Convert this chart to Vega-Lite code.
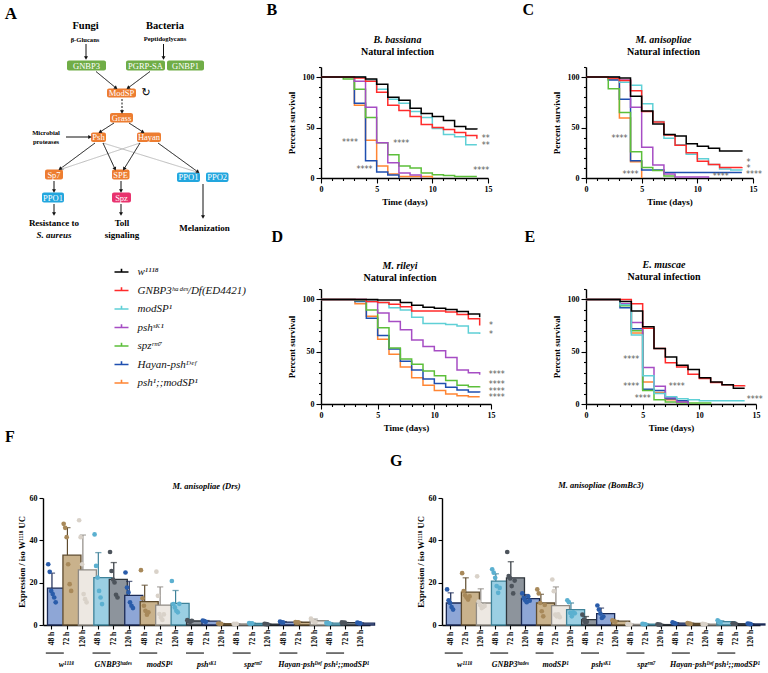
{
"$schema":"https://vega.github.io/schema/vega-lite/v6.json",
"background":"white",
"padding":{"left":0,"top":2,"right":2,"bottom":2},
"config":{
 "view":{"stroke":null},
 "font":"Liberation Serif",
 "axis":{"labelFont":"Liberation Serif","titleFont":"Liberation Serif","labelFontWeight":"bold","titleFontWeight":"bold","labelColor":"#000","titleColor":"#000","domainColor":"#000","tickColor":"#000","domainWidth":1.4,"tickWidth":1.1,"grid":false,"labelFontSize":8,"titleFontSize":9,"labelFlush":false},
 "title":{"font":"Liberation Serif","fontWeight":"bold","color":"#000","subtitleFont":"Liberation Serif","subtitleFontWeight":"bold","subtitleColor":"#000"}
},
"datasets":{
 "surv":[
  {"p":"B","g":"pm","d":[0,3,4,5,6,7,10],"s":[100,72,37.5,12,4,1.5,0]},
  {"p":"B","g":"H","d":[0,3,4,5,6,7],"s":[100,74,17,6,3,0]},
  {"p":"B","g":"s","d":[0,2,3,4,5,6,7,8,9,10,11,12,14],"s":[100,98,88,60,35,23,12,10,5,3.3,2.5,1.5,1.5]},
  {"p":"B","g":"p","d":[0,3,4,5,6,7,8,9],"s":[100,96,70,35,15,5,3,0]},
  {"p":"B","g":"m","d":[0,4,5,6,7,8,9,10,11,12,13,14],"s":[100,97,88,78,74,66,60,49,43,41,33,33]},
  {"p":"B","g":"G","d":[0,3,4,5,6,7,8,9,10,11,12,13,14],"s":[100,99,96,85,72,67,61,53,50,48,45,42,39]},
  {"p":"B","g":"w","d":[0,4,5,6,7,8,9,10,11,12,13,14],"s":[100,98,93,80,77,69,64,61,57,51,48.5,48]},
  {"p":"C","g":"pm","d":[0,2,3,4,5],"s":[100,98,59.5,16,0]},
  {"p":"C","g":"H","d":[0,2,3,4,5,7,14],"s":[100,97,78,17,8,5.5,5.5]},
  {"p":"C","g":"s","d":[0,2,3,4,5,6,7,8],"s":[100,88.5,65,26,10.5,7.5,2,0]},
  {"p":"C","g":"p","d":[0,3,4,5,6,7,8,11],"s":[100,97,70,30.5,13,4,1,0]},
  {"p":"C","g":"m","d":[0,3,4,5,6,7,8,9,10,11,12,13,14],"s":[100,95,92,73.5,56,39.5,33,23.5,19,13.5,9,8,7.5]},
  {"p":"C","g":"G","d":[0,2,3,4,5,6,7,8,9,10,11,12,14],"s":[100,99,96.5,86.5,66,55.5,42.5,32.5,25,16.6,13.5,10.3,11]},
  {"p":"C","g":"w","d":[0,3,4,5,6,7,8,9,10,11,12,14],"s":[100,99,81,66.5,53.5,43,41.5,34,31.5,29.5,26.8,27.5]},
  {"p":"D","g":"pm","d":[0,3,4,5,6,7,8,9,10,11,12,13,14],"s":[100,96,84,62,47.5,35.5,25,18,13,9.5,8,7,7]},
  {"p":"D","g":"H","d":[0,3,4,5,6,7,8,9,10,11,12,13,14],"s":[100,98,82,65.5,52.5,41,32.5,24,19.5,16,13.5,11.5,11]},
  {"p":"D","g":"s","d":[0,3,4,5,6,7,8,9,10,11,12,13,14],"s":[100,99,90,73,53.5,43,38,31.5,27,22.5,18,16.5,17]},
  {"p":"D","g":"p","d":[0,4,5,6,7,8,9,10,11,12,13,14],"s":[100,98,87,79,71,61.3,55,51,44.5,32.5,30,28]},
  {"p":"D","g":"m","d":[0,4,5,6,7,8,9,11,12,13,14],"s":[100,99,97,92,90,83,77,76,74.5,68,67]},
  {"p":"D","g":"G","d":[0,4,5,6,7,8,11,12,13,14],"s":[100,98,97,95.5,93,89,88,85.5,81.5,75]},
  {"p":"D","g":"w","d":[0,5,7,8,9,10,11,12,13,14],"s":[100,99.5,97,94.5,92.5,91.5,90.5,88.5,86,83]},
  {"p":"E","g":"pm","d":[0,3,4,5,6,7,8,9],"s":[100,95,68,21,11,4,2,0]},
  {"p":"E","g":"H","d":[0,3,4,5,6,7,8,9],"s":[100,92,72,14,13,5,3,0]},
  {"p":"E","g":"s","d":[0,3,4,5,6,7,8,11],"s":[100,94,70,13,4,2,1,0]},
  {"p":"E","g":"p","d":[0,3,4,5,6,7,8,9],"s":[100,96,78,35,17,6,2,0]},
  {"p":"E","g":"m","d":[0,3,4,5,6,7,8,9,10,14],"s":[100,95,66,27,10,7,5,4,3,3]},
  {"p":"E","g":"G","d":[0,4,5,6,7,8,9,10,11,12,13,14],"s":[100,96,72.5,53,39.5,35.5,28.5,24.5,20.5,18.5,17.5,18]},
  {"p":"E","g":"w","d":[0,3,4,5,6,7,8,9,10,11,12,13,14],"s":[100,98,89,74,53,45,37,33,25,21,18.5,15,15]}
 ],
 "stars":[
  {"p":"B","x":14.8,"y":41,"t":"**"},{"p":"B","x":14.8,"y":33.5,"t":"**"},{"p":"B","x":2.6,"y":36.8,"t":"****"},{"p":"B","x":7.2,"y":35.9,"t":"****"},{"p":"B","x":3.9,"y":9.9,"t":"****"},{"p":"B","x":14.4,"y":8.9,"t":"****"},
  {"p":"C","x":14.6,"y":17.2,"t":"*"},{"p":"C","x":14.6,"y":10.6,"t":"*"},{"p":"C","x":15.1,"y":5,"t":"****"},{"p":"C","x":3.0,"y":41,"t":"****"},{"p":"C","x":4.0,"y":4.6,"t":"****"},{"p":"C","x":12.1,"y":3.3,"t":"****"},
  {"p":"D","x":15.0,"y":76.5,"t":"*"},{"p":"D","x":15.0,"y":67.7,"t":"*"},{"p":"D","x":15.5,"y":29.7,"t":"****"},{"p":"D","x":15.5,"y":20,"t":"****"},{"p":"D","x":15.5,"y":13.5,"t":"****"},{"p":"D","x":15.5,"y":7.4,"t":"****"},
  {"p":"E","x":4.0,"y":44.2,"t":"****"},{"p":"E","x":4.0,"y":17.7,"t":"****"},{"p":"E","x":8.0,"y":17.7,"t":"****"},{"p":"E","x":5.0,"y":6.8,"t":"****"},{"p":"E","x":14.9,"y":5.5,"t":"****"}
 ],
 "bars":[
  {"p":"F","k":"01|48 h","c":"b","m":17.4,"hi":24.5},{"p":"F","k":"02|72 h","c":"t","m":33,"hi":46},{"p":"F","k":"03|120 h","c":"l","m":26,"hi":42.5},
  {"p":"F","k":"04|48 h","c":"c","m":22.4,"hi":34.2},{"p":"F","k":"05|72 h","c":"d","m":21.6,"hi":29.5},{"p":"F","k":"06|120 h","c":"b","m":14,"hi":20.6},
  {"p":"F","k":"07|48 h","c":"t","m":11,"hi":18.8},{"p":"F","k":"08|72 h","c":"l","m":9.4,"hi":18},{"p":"F","k":"09|120 h","c":"c","m":10.2,"hi":16.3},
  {"p":"F","k":"10|48 h","c":"d","m":1.9,"hi":2.3},{"p":"F","k":"11|72 h","c":"b","m":1.8,"hi":2.1},{"p":"F","k":"12|120 h","c":"t","m":0.6,"hi":0.7},
  {"p":"F","k":"13|48 h","c":"l","m":0.5,"hi":0.6},{"p":"F","k":"14|72 h","c":"c","m":0.8,"hi":0.9},{"p":"F","k":"15|120 h","c":"d","m":0.4,"hi":0.5},
  {"p":"F","k":"16|48 h","c":"b","m":1.4,"hi":1.6},{"p":"F","k":"17|72 h","c":"t","m":1.3,"hi":1.4},{"p":"F","k":"18|120 h","c":"l","m":2.0,"hi":2.8},
  {"p":"F","k":"19|48 h","c":"c","m":0.9,"hi":1.0},{"p":"F","k":"20|72 h","c":"d","m":1.1,"hi":1.2},{"p":"F","k":"21|120 h","c":"b","m":0.9,"hi":1.0},
  {"p":"G","k":"01|48 h","c":"b","m":10.4,"hi":15.2},{"p":"G","k":"02|72 h","c":"t","m":15.5,"hi":22.3},{"p":"G","k":"03|120 h","c":"l","m":10.4,"hi":17.1},
  {"p":"G","k":"04|48 h","c":"c","m":20.7,"hi":24.2},{"p":"G","k":"05|72 h","c":"d","m":22.3,"hi":29.9},{"p":"G","k":"06|120 h","c":"b","m":12.5,"hi":14.4},
  {"p":"G","k":"07|48 h","c":"t","m":10.4,"hi":14.5},{"p":"G","k":"08|72 h","c":"l","m":9.2,"hi":18},{"p":"G","k":"09|120 h","c":"c","m":7.3,"hi":10.4},
  {"p":"G","k":"10|48 h","c":"d","m":2.5,"hi":4.0},{"p":"G","k":"11|72 h","c":"b","m":5.4,"hi":8.0},{"p":"G","k":"12|120 h","c":"t","m":1.8,"hi":2.1},
  {"p":"G","k":"13|48 h","c":"l","m":0.3,"hi":0.4},{"p":"G","k":"14|72 h","c":"c","m":0.4,"hi":0.5},{"p":"G","k":"15|120 h","c":"d","m":0.2,"hi":0.3},
  {"p":"G","k":"16|48 h","c":"b","m":0.9,"hi":1.1},{"p":"G","k":"17|72 h","c":"t","m":0.7,"hi":0.9},{"p":"G","k":"18|120 h","c":"l","m":0.4,"hi":0.5},
  {"p":"G","k":"19|48 h","c":"c","m":1.6,"hi":2.0},{"p":"G","k":"20|72 h","c":"d","m":0.6,"hi":0.7},{"p":"G","k":"21|120 h","c":"b","m":0.5,"hi":0.6}
 ],
 "pts":[
  {"p":"F","k":"01|48 h","c":"b","v":[28.7,25.1,16.1,14.6,13,10.7]},{"p":"F","k":"02|72 h","c":"t","v":[47.8,45.9,41.5,28.7,19.3,16.1]},{"p":"F","k":"03|120 h","c":"l","v":[49.5,41.5,28.7,14.6,12.2,10.7]},
  {"p":"F","k":"04|48 h","c":"c","v":[42.8,27.9,22.4,16.1,13,9.9]},{"p":"F","k":"05|72 h","c":"d","v":[34.5,25.5,21.5,20.1,14.3,13]},{"p":"F","k":"06|120 h","c":"b","v":[24.8,17.7,15.4,10.7,9.1,8]},
  {"p":"F","k":"07|48 h","c":"t","v":[25.9,12.6,9.1,6.7,4.9,6]},{"p":"F","k":"08|72 h","c":"l","v":[25.2,13.8,5.2,3.6,2.4,5]},{"p":"F","k":"09|120 h","c":"c","v":[20.8,9.9,8.3,6.7,6,10]},
  {"p":"F","k":"10|48 h","c":"d","v":[2.3,1.8,1.5,2]},{"p":"F","k":"11|72 h","c":"b","v":[2.1,1.8,1.5]},{"p":"F","k":"12|120 h","c":"t","v":[0.7,0.5,0.6]},
  {"p":"F","k":"13|48 h","c":"l","v":[0.6,0.4,0.5]},{"p":"F","k":"14|72 h","c":"c","v":[0.9,0.7,0.8]},{"p":"F","k":"15|120 h","c":"d","v":[0.5,0.4,0.3]},
  {"p":"F","k":"16|48 h","c":"b","v":[1.6,1.3,1.2]},{"p":"F","k":"17|72 h","c":"t","v":[1.4,1.2,1.3]},{"p":"F","k":"18|120 h","c":"l","v":[3.0,2.2,1.5,1.3]},
  {"p":"F","k":"19|48 h","c":"c","v":[1.0,0.9,0.8]},{"p":"F","k":"20|72 h","c":"d","v":[1.2,1.0,1.1]},{"p":"F","k":"21|120 h","c":"b","v":[1.1,0.9,0.8]},
  {"p":"G","k":"01|48 h","c":"b","v":[16.8,11.7,10.4,8.5,7.3]},{"p":"G","k":"02|72 h","c":"t","v":[24.5,16,14,13,12,13.5]},{"p":"G","k":"03|120 h","c":"l","v":[23,11,9.5,8,8.5,9]},
  {"p":"G","k":"04|48 h","c":"c","v":[26.3,24.7,22.3,18.4,15.2,17.5]},{"p":"G","k":"05|72 h","c":"d","v":[34.5,23.1,22,18.4,14.9,21]},{"p":"G","k":"06|120 h","c":"b","v":[14.9,12.8,11.7,10.8,13.5,11.5]},
  {"p":"G","k":"07|48 h","c":"t","v":[16.8,14.9,10.4,6.5,4.1,9.5]},{"p":"G","k":"08|72 h","c":"l","v":[21.5,16,4.9,4.1,5,3.7]},{"p":"G","k":"09|120 h","c":"c","v":[11.7,10.8,5.7,4.1,6,5.5]},
  {"p":"G","k":"10|48 h","c":"d","v":[4.9,2.5,1.2,1.5]},{"p":"G","k":"11|72 h","c":"b","v":[9.2,7.3,5.4,3.3,4.0]},{"p":"G","k":"12|120 h","c":"t","v":[2.2,1.8,1.5]},
  {"p":"G","k":"13|48 h","c":"l","v":[0.4,0.3,0.2]},{"p":"G","k":"14|72 h","c":"c","v":[0.5,0.4,0.3]},{"p":"G","k":"15|120 h","c":"d","v":[0.3,0.2,0.1]},
  {"p":"G","k":"16|48 h","c":"b","v":[1.2,0.9,0.7]},{"p":"G","k":"17|72 h","c":"t","v":[0.9,0.7,0.5]},{"p":"G","k":"18|120 h","c":"l","v":[0.5,0.4,0.3]},
  {"p":"G","k":"19|48 h","c":"c","v":[2.2,1.6,1.2]},{"p":"G","k":"20|72 h","c":"d","v":[0.8,0.6,0.5]},{"p":"G","k":"21|120 h","c":"b","v":[0.7,0.5,0.4]}
 ],
 "groups":[{"grp":"w"},{"grp":"G"},{"grp":"m"},{"grp":"p"},{"grp":"s"},{"grp":"H"},{"grp":"pm"}],
 "dbox":[
  {"x":6.7,"x2":10.6,"y":5.95,"y2":6.95,"c":"g"},{"x":12.6,"x2":16.5,"y":5.95,"y2":6.95,"c":"g"},{"x":16.7,"x2":20.4,"y":5.95,"y2":6.95,"c":"g"},
  {"x":10.7,"x2":13.6,"y":8.75,"y2":9.65,"c":"o"},{"x":11.0,"x2":13.3,"y":11.2,"y2":12.15,"c":"o"},
  {"x":9.1,"x2":10.6,"y":13.15,"y2":14.1,"c":"o"},{"x":13.7,"x2":16.1,"y":13.15,"y2":14.1,"c":"o"},
  {"x":4.5,"x2":6.3,"y":16.85,"y2":17.85,"c":"o"},{"x":11.2,"x2":12.95,"y":16.85,"y2":17.85,"c":"o"},
  {"x":17.7,"x2":20.0,"y":17.15,"y2":18.1,"c":"b"},{"x":20.6,"x2":22.85,"y":17.15,"y2":18.1,"c":"b"},
  {"x":4.2,"x2":6.4,"y":19.15,"y2":20.15,"c":"b"},{"x":11.2,"x2":13.1,"y":19.15,"y2":20.15,"c":"p"}
 ],
 "darrow":[
  {"x":10.3,"y":14.2,"x2":19.7,"y2":17.1,"a":107.1,"k":"g"},
  {"x":14.0,"y":14.2,"x2":6.2,"y2":16.8,"a":251.6,"k":"g"},
  {"x":8.6,"y":4.3,"x2":8.6,"y2":5.7,"a":180,"k":"b"},
  {"x":16.35,"y":4.3,"x2":16.35,"y2":5.7,"a":180,"k":"b"},
  {"x":9.6,"y":7.05,"x2":11.6,"y2":8.7,"a":129.5,"k":"b"},
  {"x":15.0,"y":7.05,"x2":12.8,"y2":8.7,"a":233.1,"k":"b"},
  {"x":12.2,"y":9.8,"x2":12.2,"y2":11.1,"a":180,"k":"d"},
  {"x":11.4,"y":12.2,"x2":10.0,"y2":13.1,"a":237.3,"k":"b"},
  {"x":12.9,"y":12.2,"x2":14.3,"y2":13.1,"a":122.7,"k":"b"},
  {"x":6.6,"y":13.6,"x2":9.0,"y2":13.6,"a":90,"k":"b"},
  {"x":9.5,"y":14.2,"x2":6.0,"y2":16.8,"a":233.4,"k":"b"},
  {"x":10.3,"y":14.2,"x2":11.5,"y2":16.8,"a":155.2,"k":"b"},
  {"x":14.0,"y":14.2,"x2":12.4,"y2":16.8,"a":211.6,"k":"b"},
  {"x":15.8,"y":14.2,"x2":19.8,"y2":17.1,"a":125.9,"k":"b"},
  {"x":5.4,"y":18.0,"x2":5.4,"y2":19.0,"a":180,"k":"b"},
  {"x":12.1,"y":18.0,"x2":12.1,"y2":19.0,"a":180,"k":"b"},
  {"x":5.4,"y":20.3,"x2":5.4,"y2":21.3,"a":180,"k":"b"},
  {"x":12.1,"y":20.3,"x2":12.1,"y2":21.3,"a":180,"k":"b"},
  {"x":20.3,"y":18.3,"x2":20.3,"y2":21.6,"a":180,"k":"b"}
 ],
 "dtext":[
  {"x":1.1,"y":1.3,"t":"A","k":"L"},
  {"x":8.55,"y":2.5,"t":"Fungi","k":"h"},{"x":16.5,"y":2.5,"t":"Bacteria","k":"h"},
  {"x":8.5,"y":3.85,"t":"β-Glucans","k":"s"},{"x":16.5,"y":3.75,"t":"Peptidoglycans","k":"s"},
  {"x":4.6,"y":13.2,"t":"Microbial","k":"s"},{"x":4.6,"y":14.05,"t":"proteases","k":"s"},
  {"x":5.4,"y":22.2,"t":"Resistance to","k":"o"},{"x":5.4,"y":23.35,"t":"S. aureus","k":"i"},
  {"x":12.2,"y":22.2,"t":"Toll","k":"o"},{"x":12.2,"y":23.35,"t":"signaling","k":"o"},
  {"x":20.45,"y":22.7,"t":"Melanization","k":"o"},
  {"x":14.6,"y":9.2,"t":"↻","k":"r"},
  {"x":8.65,"y":6.45,"t":"GNBP3","k":"b"},{"x":14.55,"y":6.45,"t":"PGRP-SA","k":"b"},{"x":18.55,"y":6.45,"t":"GNBP1","k":"b"},
  {"x":12.15,"y":9.2,"t":"ModSP","k":"b"},{"x":12.15,"y":11.68,"t":"Grass","k":"b"},
  {"x":9.85,"y":13.63,"t":"Psh","k":"b"},{"x":14.9,"y":13.63,"t":"Hayan","k":"b"},
  {"x":5.4,"y":17.35,"t":"Sp7","k":"b"},{"x":12.07,"y":17.35,"t":"SPE","k":"b"},
  {"x":18.85,"y":17.63,"t":"PPO1","k":"b"},{"x":21.72,"y":17.63,"t":"PPO2","k":"b"},
  {"x":5.3,"y":19.65,"t":"PPO1","k":"b"},{"x":12.15,"y":19.65,"t":"Spz","k":"b"}
 ]
},
"spacing":-3,"bounds":"full",
"resolve":{"scale":{"color":"independent","fill":"independent","stroke":"independent","strokeDash":"independent"},"legend":{"color":"independent","fill":"independent","stroke":"independent","strokeDash":"independent"}},
"vconcat":[
 {"columns":5,"spacing":0,"align":"none","bounds":"flush",
  "resolve":{"scale":{"color":"independent","fill":"independent","stroke":"independent","strokeDash":"independent"},"legend":{"color":"independent","fill":"independent","stroke":"independent","strokeDash":"independent"}},
  "concat":[
  {"width":226.5,"height":111,
   "layer":[
    {"data":{"name":"dbox"},"mark":{"type":"rect","cornerRadius":2},
     "encoding":{"x":{"field":"x","type":"quantitative","scale":{"domain":[0,22.65],"nice":false,"zero":false},"axis":null},"x2":{"field":"x2"},
      "y":{"field":"y","type":"quantitative","scale":{"domain":[6.6,17.7],"nice":false,"zero":false,"reverse":true},"axis":null},"y2":{"field":"y2"},
      "fill":{"field":"c","type":"nominal","scale":{"domain":["g","o","b","p"],"range":["#70AD47","#ED7D31","#22A6DE","#E8336E"]},"legend":null}}},
    {"data":{"name":"darrow"},"mark":{"type":"rule","strokeWidth":1},
     "encoding":{"x":{"field":"x","type":"quantitative","axis":null},"x2":{"field":"x2"},"y":{"field":"y","type":"quantitative","axis":null},"y2":{"field":"y2"},
      "color":{"field":"k","type":"nominal","scale":{"domain":["b","g","d"],"range":["#111111","#BDBDBD","#111111"]},"legend":null},
      "strokeDash":{"field":"k","type":"nominal","scale":{"domain":["b","g","d"],"range":[[1,0],[1,0],[2,1.5]]},"legend":null}}},
    {"data":{"name":"darrow"},"mark":{"type":"point","shape":"triangle-up","filled":true,"size":16,"opacity":1},
     "encoding":{"x":{"field":"x2","type":"quantitative","axis":null},"y":{"field":"y2","type":"quantitative","axis":null},
      "angle":{"field":"a","type":"quantitative","scale":{"domain":[0,360],"range":[0,360]}},
      "color":{"field":"k","type":"nominal","legend":null}}},
    {"data":{"name":"dtext"},"transform":[{"filter":"datum.k === 'L'"}],"mark":{"type":"text","fontSize":17,"fontWeight":"bold","align":"center","baseline":"middle","color":"#000"},
     "encoding":{"x":{"field":"x","type":"quantitative","axis":null},"y":{"field":"y","type":"quantitative","axis":null},"text":{"field":"t"}}},
    {"data":{"name":"dtext"},"transform":[{"filter":"datum.k === 'h'"}],"mark":{"type":"text","fontSize":10.5,"fontWeight":"bold","align":"center","baseline":"middle","color":"#000"},
     "encoding":{"x":{"field":"x","type":"quantitative","axis":null},"y":{"field":"y","type":"quantitative","axis":null},"text":{"field":"t"}}},
    {"data":{"name":"dtext"},"transform":[{"filter":"datum.k === 's'"}],"mark":{"type":"text","fontSize":6.6,"fontWeight":"bold","align":"center","baseline":"middle","color":"#000"},
     "encoding":{"x":{"field":"x","type":"quantitative","axis":null},"y":{"field":"y","type":"quantitative","axis":null},"text":{"field":"t"}}},
    {"data":{"name":"dtext"},"transform":[{"filter":"datum.k === 'o'"}],"mark":{"type":"text","fontSize":9,"fontWeight":"bold","align":"center","baseline":"middle","color":"#000"},
     "encoding":{"x":{"field":"x","type":"quantitative","axis":null},"y":{"field":"y","type":"quantitative","axis":null},"text":{"field":"t"}}},
    {"data":{"name":"dtext"},"transform":[{"filter":"datum.k === 'i'"}],"mark":{"type":"text","fontSize":9,"fontWeight":"bold","fontStyle":"italic","align":"center","baseline":"middle","color":"#000"},
     "encoding":{"x":{"field":"x","type":"quantitative","axis":null},"y":{"field":"y","type":"quantitative","axis":null},"text":{"field":"t"}}},
    {"data":{"name":"dtext"},"transform":[{"filter":"datum.k === 'r'"}],"mark":{"type":"text","font":"DejaVu Sans","fontSize":11,"align":"center","baseline":"middle","color":"#000"},
     "encoding":{"x":{"field":"x","type":"quantitative","axis":null},"y":{"field":"y","type":"quantitative","axis":null},"text":{"field":"t"}}},
    {"data":{"name":"dtext"},"transform":[{"filter":"datum.k === 'b'"}],"mark":{"type":"text","fontSize":8.5,"align":"center","baseline":"middle","color":"#FFFFFF"},
     "encoding":{"x":{"field":"x","type":"quantitative","axis":null},"y":{"field":"y","type":"quantitative","axis":null},"text":{"field":"t"}}}
   ]},
  {"width":94,"height":111,"data":{"values":[]},"mark":"point","title":{"text":"B","anchor":"start","frame":"group","dx":39.5,"fontSize":16,"offset":49}},
  {"width":167,"height":111,
   "title":{"text":"B. bassiana","subtitle":"Natural infection","fontSize":10,"fontStyle":"italic","subtitleFontSize":10,"subtitleFontStyle":"normal","subtitlePadding":2,"anchor":"middle","frame":"group","offset":9,"dx":-7},
   "layer":[
    {"data":{"name":"surv"},"transform":[{"filter":"datum.p === 'B'"},{"flatten":["d","s"]}],
     "mark":{"type":"line","interpolate":"step-after","strokeWidth":1.5},
     "encoding":{
      "x":{"field":"d","type":"quantitative","scale":{"domain":[0,15],"nice":false,"zero":false},"axis":{"title":"Time (days)","values":[0,5,10,15],"tickSize":5,"labelPadding":2,"titlePadding":4}},
      "y":{"field":"s","type":"quantitative","scale":{"domain":[0,110],"nice":false,"zero":false},"axis":{"title":"Percent survival","values":[0,50,100],"tickSize":5,"labelPadding":2,"titlePadding":6}},
      "color":{"field":"g","type":"nominal","scale":{"domain":["w","G","m","p","s","H","pm"],"range":["#000000","#FF2B2B","#5FD0D6","#A64DC4","#5CBF3A","#1F4FB0","#FF8533"]},"legend":null}}},
    {"data":{"name":"stars"},"transform":[{"filter":"datum.p === 'B'"}],
     "mark":{"type":"text","font":"DejaVu Sans","fontSize":8,"color":"#5a5a5a","align":"center","baseline":"middle","dy":2},
     "encoding":{"x":{"field":"x","type":"quantitative","scale":{"domain":[0,15],"nice":false,"zero":false},"axis":{"orient":"bottom","title":null,"values":[1,2,3,4,6,7,8,9,11,12,13,14],"labels":false,"domain":false,"tickSize":2.5}},
      "y":{"field":"y","type":"quantitative","scale":{"domain":[0,110],"nice":false,"zero":false},"axis":{"orient":"left","title":null,"values":[10,20,30,40,60,70,80,90,110],"labels":false,"domain":false,"tickSize":2.5}},"text":{"field":"t"}}}
   ],
   "resolve":{"scale":{"x":"independent","y":"independent"}}},
  {"width":95,"height":111,"data":{"values":[]},"mark":"point","title":{"text":"C","anchor":"start","frame":"group","dx":31.5,"fontSize":16,"offset":49}},
  {"width":167,"height":111,
   "title":{"text":"M. anisopliae","subtitle":"Natural infection","fontSize":10,"fontStyle":"italic","subtitleFontSize":10,"subtitleFontStyle":"normal","subtitlePadding":2,"anchor":"middle","frame":"group","offset":9,"dx":-6},
   "layer":[
    {"data":{"name":"surv"},"transform":[{"filter":"datum.p === 'C'"},{"flatten":["d","s"]}],
     "mark":{"type":"line","interpolate":"step-after","strokeWidth":1.5},
     "encoding":{
      "x":{"field":"d","type":"quantitative","scale":{"domain":[0,15],"nice":false,"zero":false},"axis":{"title":"Time (days)","values":[0,5,10,15],"tickSize":5,"labelPadding":2,"titlePadding":4}},
      "y":{"field":"s","type":"quantitative","scale":{"domain":[0,110],"nice":false,"zero":false},"axis":{"title":"Percent survival","values":[0,50,100],"tickSize":5,"labelPadding":2,"titlePadding":6}},
      "color":{"field":"g","type":"nominal","scale":{"domain":["w","G","m","p","s","H","pm"],"range":["#000000","#FF2B2B","#5FD0D6","#A64DC4","#5CBF3A","#1F4FB0","#FF8533"]},"legend":null}}},
    {"data":{"name":"stars"},"transform":[{"filter":"datum.p === 'C'"}],
     "mark":{"type":"text","font":"DejaVu Sans","fontSize":8,"color":"#5a5a5a","align":"center","baseline":"middle","dy":2},
     "encoding":{"x":{"field":"x","type":"quantitative","scale":{"domain":[0,15],"nice":false,"zero":false},"axis":{"orient":"bottom","title":null,"values":[1,2,3,4,6,7,8,9,11,12,13,14],"labels":false,"domain":false,"tickSize":2.5}},
      "y":{"field":"y","type":"quantitative","scale":{"domain":[0,110],"nice":false,"zero":false},"axis":{"orient":"left","title":null,"values":[10,20,30,40,60,70,80,90,110],"labels":false,"domain":false,"tickSize":2.5}},"text":{"field":"t"}}}
   ],
   "resolve":{"scale":{"x":"independent","y":"independent"}}},
  {"width":10,"height":111,"data":{"values":[]},"mark":"point"},
  {"width":10,"height":111,"data":{"values":[]},"mark":"point"},
  {"width":10,"height":111,"data":{"values":[]},"mark":"point"},
  {"width":10,"height":111,"data":{"values":[]},"mark":"point"},
  {"width":10,"height":111,"data":{"values":[]},"mark":"point"},
  {"width":226.5,"height":115,"data":{"values":[]},"mark":"point"},
  {"width":94,"height":115,"data":{"values":[]},"mark":"point","title":{"text":"D","anchor":"start","frame":"group","dx":44.5,"fontSize":16,"offset":44}},
  {"width":170,"height":115,
   "title":{"text":"M. rileyi","subtitle":"Natural infection","fontSize":10,"fontStyle":"italic","subtitleFontSize":10,"subtitleFontStyle":"normal","subtitlePadding":2,"anchor":"middle","frame":"group","offset":-19,"dx":-6},
   "layer":[
    {"data":{"name":"surv"},"transform":[{"filter":"datum.p === 'D'"},{"flatten":["d","s"]}],
     "mark":{"type":"line","interpolate":"step-after","strokeWidth":1.5},
     "encoding":{
      "x":{"field":"d","type":"quantitative","scale":{"domain":[0,15],"nice":false,"zero":false},"axis":{"title":"Time (days)","values":[0,5,10,15],"tickSize":5,"labelPadding":2,"titlePadding":4}},
      "y":{"field":"s","type":"quantitative","scale":{"domain":[0,110],"nice":false,"zero":false},"axis":{"title":"Percent survival","values":[0,50,100],"tickSize":5,"labelPadding":2,"titlePadding":6}},
      "color":{"field":"g","type":"nominal","scale":{"domain":["w","G","m","p","s","H","pm"],"range":["#000000","#FF2B2B","#5FD0D6","#A64DC4","#5CBF3A","#1F4FB0","#FF8533"]},
       "legend":{"orient":"none","legendX":-207.5,"legendY":-25,"title":null,"symbolType":"M-1,0L1,0M0,0L0,-0.45","symbolSize":196,"symbolStrokeWidth":1.6,"labelFont":"Liberation Serif","labelFontStyle":"italic","labelFontSize":11,"labelColor":"#111","labelOffset":8,"rowPadding":5.5,"labelLimit":300,
        "labelExpr":"datum.value === 'w' ? 'w¹¹¹⁸' : datum.value === 'G' ? 'GNBP3ʰᵃᵈᵉˢ/Df(ED4421)' : datum.value === 'm' ? 'modSP¹' : datum.value === 'p' ? 'pshˢᴷ¹' : datum.value === 's' ? 'spzʳᵐ⁷' : datum.value === 'H' ? 'Hayan-pshᴰᵉᶠ' : 'psh¹;;modSP¹'"}}}},
    {"data":{"name":"stars"},"transform":[{"filter":"datum.p === 'D'"}],
     "mark":{"type":"text","font":"DejaVu Sans","fontSize":8,"color":"#5a5a5a","align":"center","baseline":"middle","dy":2},
     "encoding":{"x":{"field":"x","type":"quantitative","scale":{"domain":[0,15],"nice":false,"zero":false},"axis":{"orient":"bottom","title":null,"values":[1,2,3,4,6,7,8,9,11,12,13,14],"labels":false,"domain":false,"tickSize":2.5}},
      "y":{"field":"y","type":"quantitative","scale":{"domain":[0,110],"nice":false,"zero":false},"axis":{"orient":"left","title":null,"values":[10,20,30,40,60,70,80,90,110],"labels":false,"domain":false,"tickSize":2.5}},"text":{"field":"t"}}}
   ],
   "resolve":{"scale":{"x":"independent","y":"independent"}}},
  {"width":95,"height":115,"data":{"values":[]},"mark":"point","title":{"text":"E","anchor":"start","frame":"group","dx":33.5,"fontSize":16,"offset":44}},
  {"width":170,"height":115,
   "title":{"text":"E. muscae","subtitle":"Natural infection","fontSize":10,"fontStyle":"italic","subtitleFontSize":10,"subtitleFontStyle":"normal","subtitlePadding":2,"anchor":"middle","frame":"group","offset":6,"dx":-7},
   "layer":[
    {"data":{"name":"surv"},"transform":[{"filter":"datum.p === 'E'"},{"flatten":["d","s"]}],
     "mark":{"type":"line","interpolate":"step-after","strokeWidth":1.5},
     "encoding":{
      "x":{"field":"d","type":"quantitative","scale":{"domain":[0,15],"nice":false,"zero":false},"axis":{"title":"Time (days)","values":[0,5,10,15],"tickSize":5,"labelPadding":2,"titlePadding":4}},
      "y":{"field":"s","type":"quantitative","scale":{"domain":[0,110],"nice":false,"zero":false},"axis":{"title":"Percent survival","values":[0,50,100],"tickSize":5,"labelPadding":2,"titlePadding":6}},
      "color":{"field":"g","type":"nominal","scale":{"domain":["w","G","m","p","s","H","pm"],"range":["#000000","#FF2B2B","#5FD0D6","#A64DC4","#5CBF3A","#1F4FB0","#FF8533"]},"legend":null}}},
    {"data":{"name":"stars"},"transform":[{"filter":"datum.p === 'E'"}],
     "mark":{"type":"text","font":"DejaVu Sans","fontSize":8,"color":"#5a5a5a","align":"center","baseline":"middle","dy":2},
     "encoding":{"x":{"field":"x","type":"quantitative","scale":{"domain":[0,15],"nice":false,"zero":false},"axis":{"orient":"bottom","title":null,"values":[1,2,3,4,6,7,8,9,11,12,13,14],"labels":false,"domain":false,"tickSize":2.5}},
      "y":{"field":"y","type":"quantitative","scale":{"domain":[0,110],"nice":false,"zero":false},"axis":{"orient":"left","title":null,"values":[10,20,30,40,60,70,80,90,110],"labels":false,"domain":false,"tickSize":2.5}},"text":{"field":"t"}}}
   ],
   "resolve":{"scale":{"x":"independent","y":"independent"}}}
 ]},
 {"hconcat":[
  {"width":43,"height":127,"data":{"values":[]},"mark":"point","title":{"text":"F","anchor":"start","frame":"group","dx":5,"fontSize":16,"offset":53}},
  {"width":327,"height":127,
   "title":{"text":"M. anisopliae (Drs)","fontSize":8.5,"fontStyle":"italic","anchor":"middle","frame":"group","offset":4},
   "layer":[
    {"layer":[
      {"data":{"name":"bars"},"transform":[{"filter":"datum.p === 'F'"}],"mark":{"type":"bar","strokeWidth":1.3},
       "encoding":{"x":{"field":"k","type":"nominal","scale":{"paddingInner":0.42,"paddingOuter":0.29},"axis":{"title":null,"labelAngle":-90,"labelAlign":"center","labelBaseline":"middle","labelPadding":9,"tickSize":4,"labelFontSize":7.5,"labelOverlap":false,"labelExpr":"substring(datum.value,3)"}},
        "y":{"field":"m","type":"quantitative","scale":{"domain":[0,60],"nice":false},"axis":{"title":"Expression / iso W¹¹¹⁸ UC","values":[0,20,40,60],"tickSize":4,"labelPadding":2,"titlePadding":3,"titleFontSize":8.5}},
        "fill":{"field":"c","type":"nominal","scale":{"domain":["b","t","l","c","d"],"range":["#8EA6D6","#C9B28C","#EDE8E2","#9BCFE3","#8D949C"]},"legend":null},
        "stroke":{"field":"c","type":"nominal","scale":{"domain":["b","t","l","c","d"],"range":["#1B2A55","#5E4B2E","#8F8A84","#3E8299","#2E343B"]},"legend":null}}},
      {"data":{"name":"bars"},"transform":[{"filter":"datum.p === 'F'"}],"mark":{"type":"rule","strokeWidth":1.2},
       "encoding":{"x":{"field":"k","type":"nominal"},"y":{"field":"m","type":"quantitative"},"y2":{"field":"hi"},"stroke":{"field":"c","type":"nominal","legend":null}}},
      {"data":{"name":"bars"},"transform":[{"filter":"datum.p === 'F'"}],"mark":{"type":"tick","filled":false,"size":5,"thickness":0.1,"strokeWidth":1.2},
       "encoding":{"x":{"field":"k","type":"nominal"},"y":{"field":"hi","type":"quantitative"},"stroke":{"field":"c","type":"nominal","legend":null}}},
      {"data":{"name":"pts"},"transform":[{"filter":"datum.p === 'F'"},{"flatten":["v"]},{"window":[{"op":"row_number","as":"r"}],"groupby":["k"]}],"mark":{"type":"circle","size":22,"opacity":1},
       "encoding":{"x":{"field":"k","type":"nominal"},"xOffset":{"field":"r","type":"nominal"},"y":{"field":"v","type":"quantitative"},
        "color":{"field":"c","type":"nominal","scale":{"domain":["b","t","l","c","d"],"range":["#2A5CAA","#A8895A","#D9D2C9","#5BB0D0","#4D545C"]},"legend":null}}}
     ]},
    {"data":{"name":"groups"},"mark":{"type":"bar","width":{"band":0.88},"color":"#000"},
     "encoding":{"x":{"field":"grp","type":"nominal","scale":{"domain":["w","G","m","p","s","H","pm"],"paddingInner":0,"paddingOuter":0},
       "axis":{"orient":"bottom","title":null,"domain":false,"ticks":false,"tickSize":0,"labelAngle":0,"labelPadding":35,"labelFontStyle":"italic","labelFontSize":8,"labelOverlap":false,"labelBound":false,
        "labelExpr":"datum.value === 'w' ? 'w¹¹¹⁸' : datum.value === 'G' ? 'GNBP3ʰᵃᵈᵉˢ' : datum.value === 'm' ? 'modSP¹' : datum.value === 'p' ? 'pshˢᴷ¹' : datum.value === 's' ? 'spzʳᵐ⁷' : datum.value === 'H' ? 'Hayan-pshᴰᵉᶠ' : 'psh¹;;modSP¹'"}},
      "y":{"datum":-13.0,"type":"quantitative","scale":{"domain":[0,60]}},"y2":{"datum":-13.5}}}
   ],
   "resolve":{"scale":{"x":"independent"}}},
  {"width":72,"height":127,"data":{"values":[]},"mark":"point","title":{"text":"G","anchor":"start","frame":"group","dx":20,"fontSize":16,"offset":29}},
  {"width":318,"height":127,
   "title":{"text":"M. anisopliae (BomBc3)","fontSize":8.5,"fontStyle":"italic","anchor":"middle","frame":"group","offset":5},
   "layer":[
    {"layer":[
      {"data":{"name":"bars"},"transform":[{"filter":"datum.p === 'G'"}],"mark":{"type":"bar","strokeWidth":1.3},
       "encoding":{"x":{"field":"k","type":"nominal","scale":{"paddingInner":0.42,"paddingOuter":0.29},"axis":{"title":null,"labelAngle":-90,"labelAlign":"center","labelBaseline":"middle","labelPadding":9,"tickSize":4,"labelFontSize":7.5,"labelOverlap":false,"labelExpr":"substring(datum.value,3)"}},
        "y":{"field":"m","type":"quantitative","scale":{"domain":[0,60],"nice":false},"axis":{"title":"Expression / iso W¹¹¹⁸ UC","values":[0,20,40,60],"tickSize":4,"labelPadding":2,"titlePadding":3,"titleFontSize":8.5}},
        "fill":{"field":"c","type":"nominal","scale":{"domain":["b","t","l","c","d"],"range":["#8EA6D6","#C9B28C","#EDE8E2","#9BCFE3","#8D949C"]},"legend":null},
        "stroke":{"field":"c","type":"nominal","scale":{"domain":["b","t","l","c","d"],"range":["#1B2A55","#5E4B2E","#8F8A84","#3E8299","#2E343B"]},"legend":null}}},
      {"data":{"name":"bars"},"transform":[{"filter":"datum.p === 'G'"}],"mark":{"type":"rule","strokeWidth":1.2},
       "encoding":{"x":{"field":"k","type":"nominal"},"y":{"field":"m","type":"quantitative"},"y2":{"field":"hi"},"stroke":{"field":"c","type":"nominal","legend":null}}},
      {"data":{"name":"bars"},"transform":[{"filter":"datum.p === 'G'"}],"mark":{"type":"tick","filled":false,"size":5,"thickness":0.1,"strokeWidth":1.2},
       "encoding":{"x":{"field":"k","type":"nominal"},"y":{"field":"hi","type":"quantitative"},"stroke":{"field":"c","type":"nominal","legend":null}}},
      {"data":{"name":"pts"},"transform":[{"filter":"datum.p === 'G'"},{"flatten":["v"]},{"window":[{"op":"row_number","as":"r"}],"groupby":["k"]}],"mark":{"type":"circle","size":22,"opacity":1},
       "encoding":{"x":{"field":"k","type":"nominal"},"xOffset":{"field":"r","type":"nominal"},"y":{"field":"v","type":"quantitative"},
        "color":{"field":"c","type":"nominal","scale":{"domain":["b","t","l","c","d"],"range":["#2A5CAA","#A8895A","#D9D2C9","#5BB0D0","#4D545C"]},"legend":null}}}
     ]},
    {"data":{"name":"groups"},"mark":{"type":"bar","width":{"band":0.88},"color":"#000"},
     "encoding":{"x":{"field":"grp","type":"nominal","scale":{"domain":["w","G","m","p","s","H","pm"],"paddingInner":0,"paddingOuter":0},
       "axis":{"orient":"bottom","title":null,"domain":false,"ticks":false,"tickSize":0,"labelAngle":0,"labelPadding":35,"labelFontStyle":"italic","labelFontSize":8,"labelOverlap":false,"labelBound":false,
        "labelExpr":"datum.value === 'w' ? 'w¹¹¹⁸' : datum.value === 'G' ? 'GNBP3ʰᵃᵈᵉˢ' : datum.value === 'm' ? 'modSP¹' : datum.value === 'p' ? 'pshˢᴷ¹' : datum.value === 's' ? 'spzʳᵐ⁷' : datum.value === 'H' ? 'Hayan-pshᴰᵉᶠ' : 'psh¹;;modSP¹'"}},
      "y":{"datum":-13.0,"type":"quantitative","scale":{"domain":[0,60]}},"y2":{"datum":-13.5}}}
   ],
   "resolve":{"scale":{"x":"independent"}}}
 ],"spacing":0,"bounds":"flush",
 "resolve":{"scale":{"color":"independent","fill":"independent","stroke":"independent"},"legend":{"color":"independent","fill":"independent","stroke":"independent"}}}
]
}
